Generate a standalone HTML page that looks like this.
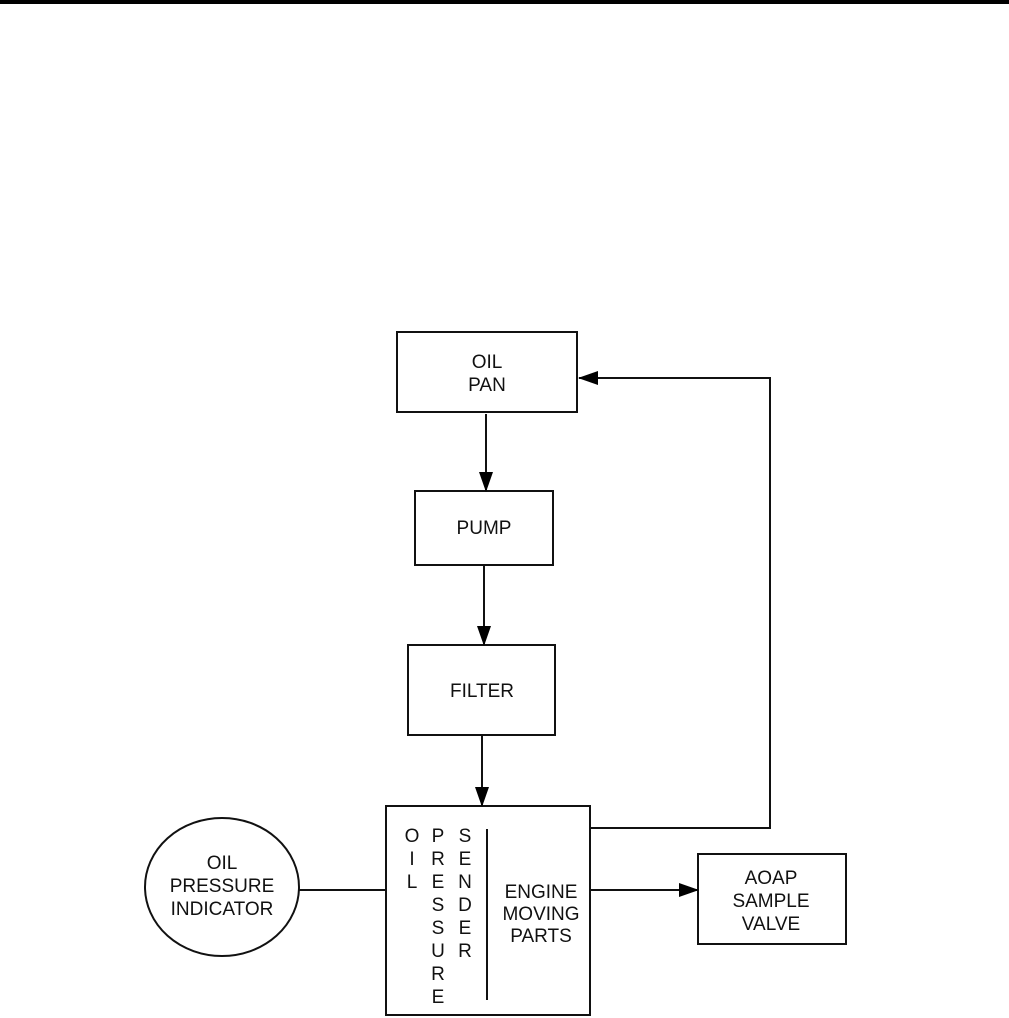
<!DOCTYPE html>
<html><head><meta charset="utf-8"><style>
html,body{margin:0;padding:0;background:#fff;width:1009px;height:1018px;overflow:hidden}
svg{display:block}
text{font-family:"Liberation Sans",Arial,sans-serif;font-size:19px;fill:#111;text-anchor:middle}
</style></head><body>
<svg width="1009" height="1018" viewBox="0 0 1009 1018">
<defs><marker id="a" markerWidth="20" markerHeight="14" refX="19" refY="7" orient="auto" markerUnits="userSpaceOnUse"><path d="M0,0 L20,7 L0,14 Z" fill="#000"/></marker></defs>
<rect x="0" y="0" width="1009" height="4" fill="#000"/>
<g fill="none" stroke="#111" stroke-width="2">
<rect x="397" y="332" width="180" height="80"/>
<rect x="415" y="491" width="138" height="74"/>
<rect x="408" y="645" width="147" height="90"/>
<rect x="386" y="806" width="204" height="209"/>
<rect x="698" y="854" width="148" height="90"/>
<ellipse cx="222" cy="887" rx="77" ry="69"/>
<line x1="487" y1="829" x2="487" y2="1000"/>
<line x1="299" y1="890" x2="386" y2="890"/>
<line x1="486" y1="414" x2="486" y2="491" marker-end="url(#a)"/>
<line x1="484" y1="565" x2="484" y2="645" marker-end="url(#a)"/>
<line x1="482" y1="735" x2="482" y2="806" marker-end="url(#a)"/>
<line x1="590" y1="890" x2="698" y2="890" marker-end="url(#a)"/>
<polyline points="590,828 770,828 770,378 579,378" marker-end="url(#a)"/>
</g>
<text x="487" y="368">OIL</text><text x="487" y="391">PAN</text>
<text x="484" y="534">PUMP</text>
<text x="482" y="697">FILTER</text>
<text x="222" y="869">OIL</text><text x="222" y="892">PRESSURE</text><text x="222" y="915">INDICATOR</text>
<text x="771" y="884">AOAP</text><text x="771" y="907">SAMPLE</text><text x="771" y="930">VALVE</text>
<text x="541" y="898">ENGINE</text><text x="541" y="920">MOVING</text><text x="541" y="942">PARTS</text>
<g>
<text x="412" y="842">O</text><text x="412" y="865">I</text><text x="412" y="888">L</text>
<text x="438" y="842">P</text><text x="438" y="865">R</text><text x="438" y="888">E</text><text x="438" y="911">S</text><text x="438" y="934">S</text><text x="438" y="957">U</text><text x="438" y="980">R</text><text x="438" y="1003">E</text>
<text x="465" y="842">S</text><text x="465" y="865">E</text><text x="465" y="888">N</text><text x="465" y="911">D</text><text x="465" y="934">E</text><text x="465" y="957">R</text>
</g>
</svg>
</body></html>
